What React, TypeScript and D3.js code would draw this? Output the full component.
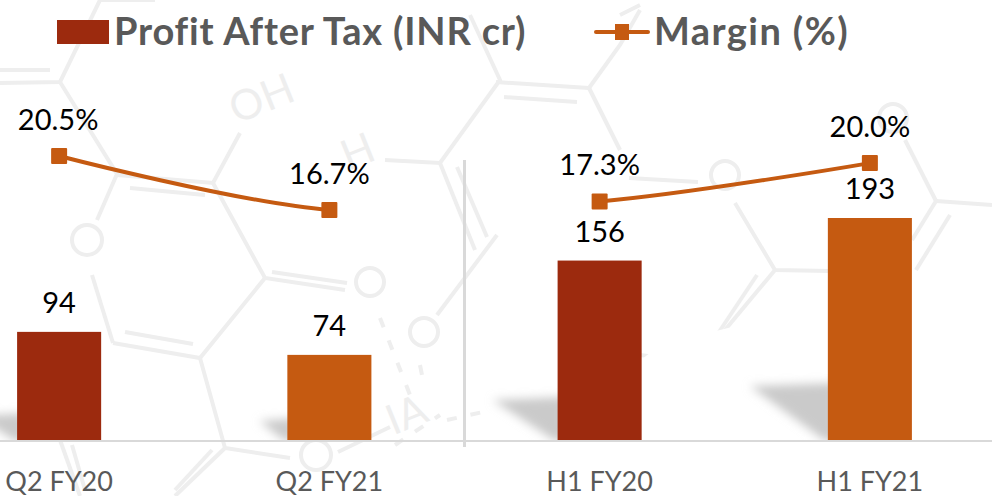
import React from "react";
import * as d3 from "d3";

const categories = ["Q2 FY20", "Q2 FY21", "H1 FY20", "H1 FY21"];
const profit = [94, 74, 156, 193];
const margin = [20.5, 16.7, 17.3, 20.0];
const barColors = ["#9C2A0E", "#C55A11", "#9C2A0E", "#C55A11"];
const profitLegend = "Profit After Tax (INR cr)";
const marginLegend = "Margin (%)";

// Decorative molecule watermark behind the chart
const bgLines = [
  "M0 70H50", "M0 83L60 82L100 0", "M60 82L117 174L97 220", "M117 175L213 183L240 133", "M130 188L205 195",
  "M213 183L265 278L345 290", "M272 272L347 283", "M113 343L92 275", "M113 343L200 358L265 278", "M125 332L193 344",
  "M200 358L225 448L290 458", "M225 448L175 496", "M212 450L175 490", "M338 452L390 427", "M385 160L440 163L500 80L470 15",
  "M457 167L487 237", "M440 163L475 250", "M437 315L497 235", "M60 440L80 496", "M72 445L85 490",
  "M589 88L496 82", "M504 97L577 102", "M589 88L620 150", "M589 88L620 45L640 10", "M629 178L698 182",
  "M735 203L775 270L830 271", "M775 270L715 342", "M757 275L717 335", "M640 355L672 359",
  "M936 201L992 205", "M936 201L905 140", "M936 201L912 240", "M950 215L916 270",
  "M100 0H155", "M620 15L640 5",
];
const bgDashes = ["M380 318L410 395", "M447 420L492 410", "M395 445L440 415", "M420 365L423 380"];
const bgCircles = [[87, 240, 15], [316, 455, 15], [370, 282, 14], [424, 332, 14], [725, 175, 14], [893, 118, 14]];
const bgTexts = [
  { t: "OH", x: 267, y: 112, r: -22 },
  { t: "H", x: 363, y: 165, r: -22 },
  { t: "IA", x: 412, y: 428, r: -22 },
];
// reach of each bar's cast shadow to the left, and its top edge height
const shadowReach = [40, 28, 65, 78];
const shadowTop = [413, 418, 397, 383];

export default function App() {
  const W = 992, H = 496;
  const x = d3.scaleBand<string>().domain(categories).range([-76, 1005]).paddingInner(0.689).paddingOuter(0.3445);
  const yBar = d3.scaleLinear().domain([0, 193]).range([440, 218]);
  const yLine = d3.scaleLinear().domain([16.7, 20.5]).range([210, 156]);
  const cx = (c: string) => (x(c) as number) + x.bandwidth() / 2;
  const pts = categories.map((c, i) => [cx(c), yLine(margin[i])] as [number, number]);
  const linePath = d3.line().curve(d3.curveCatmullRom)(pts) as string;
  const gapL = cx(categories[1]);
  const gapR = cx(categories[2]);
  const sep = (gapL + gapR) / 2;

  return (
    <svg width={W} height={H} viewBox={`0 0 ${W} ${H}`} style={{ position: "fixed", left: 0, top: 0, background: "#fff", fontFamily: "Lato, sans-serif" }}>
      <defs>
        <filter id="bl" x="-30%" y="-50%" width="160%" height="200%"><feGaussianBlur stdDeviation="5" /></filter>
        <clipPath id="gap">
          <rect x={-10} y={0} width={gapL + 10} height={H} />
          <rect x={gapR} y={0} width={W - gapR + 10} height={H} />
        </clipPath>
        <clipPath id="above"><rect x={0} y={0} width={W} height={440} /></clipPath>
      </defs>

      <g stroke="#eeeeee" strokeWidth={4} fill="none">
        {bgLines.map((d, i) => <path key={i} d={d} />)}
        {bgDashes.map((d, i) => <path key={i} d={d} strokeDasharray="10 14" />)}
        {bgCircles.map(([a, b, r], i) => <circle key={i} cx={a} cy={b} r={r} />)}
      </g>
      {bgTexts.map((d, i) => (
        <text key={i} transform={`translate(${d.x},${d.y}) rotate(${d.r})`} textAnchor="middle" fontSize={42} fill="#eeeeee">{d.t}</text>
      ))}
      {/* white patch in the watermark */}
      <path d="M660 345L760 320L830 320V440H640L590 400Z" fill="#fff" />

      {/* bar shadows */}
      <g clipPath="url(#above)">
        <g filter="url(#bl)" fill="#cacaca">
          {categories.map((c, i) => {
            const l = x(c) as number;
            return <path key={c} d={`M${l - shadowReach[i]} ${shadowTop[i] + 3}L${l + 8} ${shadowTop[i]}V442L${l - 4} 440Z`} />;
          })}
        </g>
      </g>
      {/* separator */}
      <line x1={sep} x2={sep} y1={160} y2={447} stroke="#d9d9d9" strokeWidth={3} />

      {/* bars */}
      {categories.map((c, i) => (
        <rect key={c} x={x(c)} y={yBar(profit[i])} width={x.bandwidth()} height={440 - yBar(profit[i])} fill={barColors[i]} />
      ))}
      <line x1={0} x2={W} y1={441} y2={441} stroke="#d9d9d9" strokeWidth={2} />

      {/* margin line */}
      <path d={linePath} fill="none" stroke="#C55A11" strokeWidth={4} clipPath="url(#gap)" strokeLinecap="round" />
      {pts.map(([a, b], i) => (
        <rect key={i} x={a - 8} y={b - 8} width={16} height={16} rx={1} fill="#C55A11" />
      ))}

      {/* labels */}
      <g fontSize={29} fill="#000" textAnchor="middle">
        {categories.map((c, i) => (
          <text key={c} x={cx(c)} y={yBar(profit[i]) - 19}>{profit[i]}</text>
        ))}
        {categories.map((c, i) => (
          <text key={c} x={cx(c) - (i === 0 ? 1 : 0)} y={pts[i][1] - 26}>{margin[i].toFixed(1) + "%"}</text>
        ))}
      </g>
      <g fontSize={27} fill="#595959" textAnchor="middle">
        {categories.map(c => <text key={c} x={cx(c)} y={491}>{c}</text>)}
      </g>

      {/* legend */}
      <rect x={57} y={20} width={52} height={24} fill="#9C2A0E" />
      <text x={114} y={45} fontSize={38} fontWeight={700} fill="#595959" letterSpacing={0.8}>{profitLegend}</text>
      <line x1={596} x2={648} y1={32} y2={32} stroke="#C55A11" strokeWidth={4} strokeLinecap="round" />
      <rect x={615} y={24} width={14} height={16} fill="#C55A11" />
      <text x={654} y={45} fontSize={38} fontWeight={700} fill="#595959" letterSpacing={1.4}>{marginLegend}</text>
    </svg>
  );
}
